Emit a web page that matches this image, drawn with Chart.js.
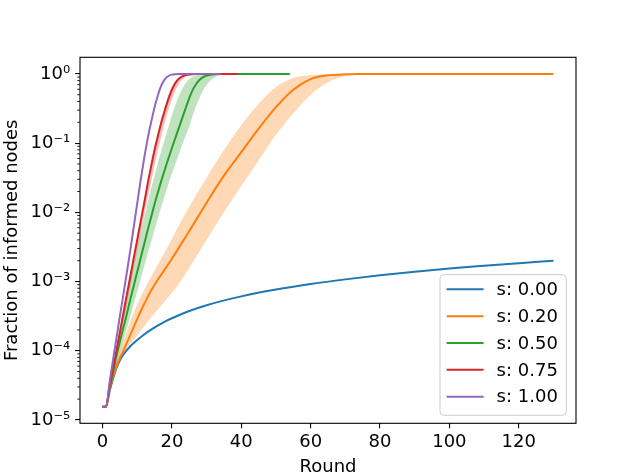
<!DOCTYPE html>
<html><head><meta charset="utf-8">
<script src="https://cdn.jsdelivr.net/npm/chart.js@4.4.1/dist/chart.umd.min.js"></script>
<style>html,body{margin:0;padding:0;background:#fff;}canvas{display:block;}</style>
</head><body>
<canvas id="c" width="640" height="476"></canvas>
<script>
const FONT = "'DejaVu Sans', sans-serif";
const seriesLabels = ['s: 0.00', 's: 0.20', 's: 0.50', 's: 0.75', 's: 1.00'];
const seriesColors = ['#1f77b4', '#ff7f0e', '#2ca02c', '#d62728', '#9467bd'];
const bandColors = ['rgba(31,119,180,0.3)', 'rgba(255,127,14,0.3)', 'rgba(44,160,44,0.3)', 'rgba(214,39,40,0.3)', 'rgba(148,103,189,0.3)'];
const xTicks = [0, 20, 40, 60, 80, 100, 120];
const yTicks = [1e-5, 1e-4, 1e-3, 1e-2, 1e-1, 1];
const yTickLabels = ['10⁻⁵', '10⁻⁴', '10⁻³', '10⁻²', '10⁻¹', '10⁰'];
const xTitle = 'Round';
const yTitle = 'Fraction of informed nodes';

// s = 0.00
const roundsBlue = [0,1,2,3,4,5,6,8,10,12,14,16,18,20,25,30,40,50,60,70,80,90,100,110,120,130];
const meanBlue = [1.556e-5,1.556e-5,2.55e-5,3.9e-5,5.6e-5,7.3e-5,8.8e-5,1.16e-4,1.43e-4,1.72e-4,2.02e-4,2.33e-4,2.64e-4,2.95e-4,3.75e-4,4.55e-4,6.1e-4,7.65e-4,9.2e-4,1.075e-3,1.23e-3,1.385e-3,1.54e-3,1.69e-3,1.845e-3,2.0e-3];

// s = 0.20
const roundsOrange = [0,1,2,3,4,5,6,7,8,9,10,11,12,13,14,16,18,20,22,25,30,35,40,45,50,55,60,65,70,75,80,90,100,110,120,130];
const meanOrange = [1.556e-5,1.556e-5,2.7e-5,4.2e-5,5.9e-5,7.9e-5,1.0e-4,1.3e-4,1.70e-4,2.21e-4,2.88e-4,3.72e-4,4.73e-4,5.96e-4,7.41e-4,1.08e-3,1.51e-3,2.14e-3,3.09e-3,5.37e-3,1.38e-2,3.39e-2,7.41e-2,0.162,0.331,0.589,0.841,0.955,0.989,0.998,1,1,1,1,1,1];
const upperOrange = [1.556e-5,1.556e-5,2.9e-5,4.8e-5,7.0e-5,1.0e-4,1.38e-4,1.905e-4,2.63e-4,3.55e-4,4.68e-4,6.03e-4,7.59e-4,9.55e-4,1.175e-3,1.78e-3,2.69e-3,4.17e-3,6.46e-3,1.20e-2,3.16e-2,7.94e-2,0.182,0.372,0.646,0.871,0.966,0.993,1,1,1,1,1,1,1,1];
const lowerOrange = [1.556e-5,1.556e-5,2.6e-5,3.9e-5,5.4e-5,7.1e-5,8.8e-5,1.07e-4,1.26e-4,1.445e-4,1.66e-4,1.95e-4,2.24e-4,2.63e-4,3.02e-4,3.98e-4,5.25e-4,6.92e-4,9.33e-4,1.585e-3,3.98e-3,1.0e-2,2.40e-2,5.62e-2,0.132,0.269,0.501,0.759,0.923,0.982,0.995,1,1,1,1,1];

// s = 0.50
const roundsGreen = [0,1,2,3,4,5,6,7,8,9,10,11,12,13,14,15,16,17,18,19,20,21,22,23,24,25,26,27,28,29,30,32,34,36,38,40,45,50,54];
const meanGreen = [1.556e-5,1.556e-5,2.82e-5,4.79e-5,8.32e-5,1.35e-4,2.14e-4,3.39e-4,5.50e-4,8.71e-4,1.38e-3,2.19e-3,3.47e-3,5.50e-3,8.51e-3,1.32e-2,1.97e-2,2.92e-2,4.22e-2,6.03e-2,8.51e-2,0.119,0.166,0.232,0.324,0.447,0.589,0.716,0.822,0.902,0.951,0.986,0.995,1,1,1,1,1,1];
const upperGreen = [1.556e-5,1.556e-5,3.0e-5,6.0e-5,1.12e-4,1.905e-4,3.55e-4,6.03e-4,1.05e-3,1.78e-3,3.02e-3,5.01e-3,8.32e-3,1.35e-2,2.19e-2,3.39e-2,5.25e-2,7.94e-2,0.117,0.174,0.251,0.355,0.479,0.617,0.741,0.841,0.912,0.955,0.977,0.989,0.995,1,1,1,1,1,1,1,1];
const lowerGreen = [1.556e-5,1.556e-5,2.75e-5,4.3e-5,6.31e-5,9.33e-5,1.38e-4,2.09e-4,3.16e-4,4.79e-4,7.24e-4,1.10e-3,1.66e-3,2.51e-3,3.72e-3,5.62e-3,8.32e-3,1.23e-2,1.78e-2,2.57e-2,3.63e-2,5.01e-2,6.92e-2,9.55e-2,0.129,0.174,0.251,0.347,0.457,0.575,0.692,0.871,0.955,0.986,0.995,1,1,1,1];

// s = 0.75
const roundsRed = [0,1,2,3,4,5,6,7,8,9,10,11,12,13,14,15,16,17,18,19,20,21,22,23,24,25,26,27,28,29,30,32,35,39];
const meanRed = [1.556e-5,1.556e-5,3.02e-5,5.5e-5,1.0e-4,1.86e-4,3.47e-4,6.46e-4,1.175e-3,2.19e-3,3.98e-3,7.41e-3,1.35e-2,2.57e-2,4.57e-2,7.94e-2,0.129,0.204,0.302,0.437,0.589,0.741,0.851,0.923,0.964,0.984,0.993,0.995,0.998,1,1,1,1,1];
const upperRed = [1.556e-5,1.556e-5,3.2e-5,6.03e-5,1.12e-4,2.09e-4,3.89e-4,7.24e-4,1.35e-3,2.51e-3,4.68e-3,8.51e-3,1.585e-2,2.95e-2,5.25e-2,9.12e-2,0.148,0.234,0.347,0.501,0.661,0.794,0.891,0.955,0.982,0.993,1,1,1,1,1,1,1,1];
const lowerRed = [1.556e-5,1.556e-5,2.9e-5,4.8e-5,7.94e-5,1.41e-4,2.51e-4,4.57e-4,8.32e-4,1.51e-3,2.75e-3,4.90e-3,8.91e-3,1.585e-2,2.75e-2,4.79e-2,7.94e-2,0.129,0.200,0.302,0.427,0.575,0.724,0.832,0.912,0.955,0.977,0.989,0.993,0.998,1,1,1,1];

// s = 1.00
const roundsPurple = [0,1,2,3,4,5,6,7,8,9,10,11,12,13,14,15,16,17,18,19,20,21,22,23,26,30,34];
const meanPurple = [1.556e-5,1.556e-5,3.39e-5,7.24e-5,1.51e-4,3.16e-4,6.46e-4,1.35e-3,2.82e-3,6.17e-3,1.35e-2,2.95e-2,6.03e-2,0.115,0.200,0.331,0.501,0.692,0.841,0.933,0.977,0.993,0.998,1,1,1,1];

const pts = (xs, ys) => xs.map((x, i) => ({x: x, y: ys[i]}));

function lineDs(i, xs, ys, order) {
  return {label: seriesLabels[i], data: pts(xs, ys), borderColor: seriesColors[i], backgroundColor: seriesColors[i],
    borderWidth: 2, pointRadius: 0, fill: false, cubicInterpolationMode: 'monotone', order: order};
}
function bandDs(i, xs, ys, fillTarget, order) {
  return {label: '', data: pts(xs, ys), borderColor: 'rgba(0,0,0,0)', borderWidth: 0, pointRadius: 0,
    backgroundColor: bandColors[i], fill: fillTarget, cubicInterpolationMode: 'monotone', order: order};
}

const datasets = [
  lineDs(0, roundsBlue, meanBlue, 10),                 // 0
  lineDs(1, roundsOrange, meanOrange, 9),              // 1
  bandDs(1, roundsOrange, upperOrange, 3, 8),          // 2
  bandDs(1, roundsOrange, lowerOrange, false, 8),      // 3
  lineDs(2, roundsGreen, meanGreen, 7),                // 4
  bandDs(2, roundsGreen, upperGreen, 6, 6),            // 5
  bandDs(2, roundsGreen, lowerGreen, false, 6),        // 6
  lineDs(3, roundsRed, meanRed, 5),                    // 7
  bandDs(3, roundsRed, upperRed, 9, 4),                // 8
  bandDs(3, roundsRed, lowerRed, false, 4),            // 9
  lineDs(4, roundsPurple, meanPurple, 3)               // 10
];

const yMinor = [];
for (const m of [1e-6, 1e-5, 1e-4, 1e-3, 1e-2, 1e-1, 1]) {
  for (let k = 2; k <= 9; k++) yMinor.push(k * m);
}

const framePlugin = {
  id: 'mplFrame',
  afterDatasetsDraw(chart) {
    const {ctx, chartArea: a, scales} = chart;
    const ys = scales.y;
    ctx.save();
    ctx.strokeStyle = '#000';
    ctx.lineWidth = 0.85;
    for (const v of yMinor) {
      const py = ys.getPixelForValue(v);
      if (py < a.top + 0.5 || py > a.bottom - 0.5) continue;
      ctx.beginPath(); ctx.moveTo(a.left, py); ctx.lineTo(a.left - 2.8, py); ctx.stroke();
    }
    ctx.lineWidth = 1.1;
    ctx.strokeRect(a.left, a.top, a.right - a.left, a.bottom - a.top);
    ctx.restore();
  }
};

const legendPlugin = {
  id: 'mplLegend',
  afterDraw(chart) {
    const {ctx, chartArea: a} = chart;
    const w = 126.3, h = 140.6;
    const x0 = a.right - 9.7 - w, y0 = a.bottom - 8 - h;
    ctx.save();
    ctx.beginPath();
    ctx.roundRect(x0, y0, w, h, 3.9);
    ctx.fillStyle = 'rgba(255,255,255,0.8)';
    ctx.fill();
    ctx.strokeStyle = '#cccccc';
    ctx.lineWidth = 1;
    ctx.stroke();
    ctx.font = '18px ' + FONT;
    ctx.textBaseline = 'middle';
    ctx.textAlign = 'left';
    seriesLabels.forEach((lab, i) => {
      const yy = y0 + 14.6 + i * 26.85;
      ctx.strokeStyle = seriesColors[i];
      ctx.lineWidth = 2;
      ctx.beginPath(); ctx.moveTo(x0 + 6.6, yy); ctx.lineTo(x0 + 43.6, yy); ctx.stroke();
      ctx.fillStyle = '#000';
      ctx.fillText(lab, x0 + 56.6, yy + 1);
    });
    ctx.restore();
  }
};

new Chart(document.getElementById('c'), {
  type: 'line',
  data: {datasets: datasets},
  options: {
    responsive: false,
    animation: false,
    devicePixelRatio: 1,
    layout: {padding: {left: 0, top: 57.3, right: 64, bottom: 0}},
    plugins: {legend: {display: false}, tooltip: {enabled: false}},
    scales: {
      x: {
        type: 'linear', min: -6.5, max: 136.5, bounds: 'data',
        afterBuildTicks: (s) => { s.ticks = xTicks.map(v => ({value: v})); },
        afterFit: (s) => { s.height = 52.7; },
        grid: {display: true, drawOnChartArea: false, drawTicks: true, tickLength: 4.9, color: '#000', lineWidth: 1.1},
        border: {display: false},
        ticks: {autoSkip: false, maxRotation: 0, padding: 3, color: '#000', font: {size: 18, family: FONT},
          callback: (v) => String(v)},
        title: {display: true, text: xTitle, color: '#000', font: {size: 18, family: FONT, lineHeight: 1}, padding: {top: 0, bottom: 0}}
      },
      y: {
        type: 'logarithmic', min: 8.945e-6, max: 1.739, bounds: 'data',
        afterBuildTicks: (s) => { s.ticks = yTicks.map(v => ({value: v})); },
        afterFit: (s) => { s.width = 80; },
        grid: {display: true, drawOnChartArea: false, drawTicks: true, tickLength: 4.9, color: '#000', lineWidth: 1.1},
        border: {display: false},
        ticks: {autoSkip: false, padding: 4.9, color: '#000', font: {size: 18, family: FONT},
          callback: (v) => { const i = yTicks.indexOf(v); return i >= 0 ? yTickLabels[i] : ''; }},
        title: {display: true, text: yTitle, color: '#000', font: {size: 18, family: FONT, lineHeight: 1}, padding: {top: 2.9, bottom: 0}}
      }
    }
  },
  plugins: [framePlugin, legendPlugin]
});
</script>
</body></html>
